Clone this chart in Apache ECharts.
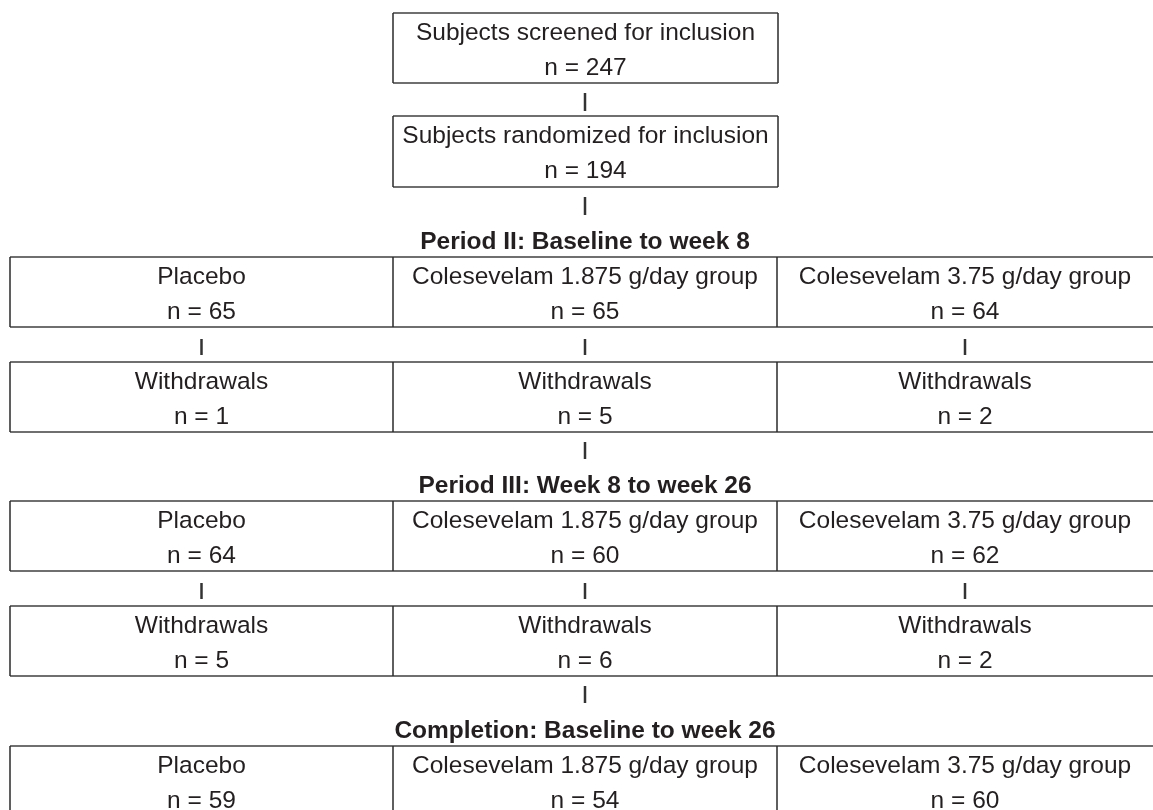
<!DOCTYPE html>
<html>
<head>
<meta charset="utf-8">
<script src="https://cdn.jsdelivr.net/npm/echarts@6/dist/echarts.min.js"></script>
<style>
    html, body { margin: 0; padding: 0; background: #fff; }
    #main { width: 1153px; height: 810px; }
</style>
</head>
<body>
<div id="main"></div>
<script>
var screeningLabels = ['Subjects screened for inclusion', 'Subjects randomized for inclusion'];
var screeningCounts = [247, 194];
var periodTitles = ['Period II: Baseline to week 8', 'Period III: Week 8 to week 26', 'Completion: Baseline to week 26'];
var groups = ['Placebo', 'Colesevelam 1.875 g/day group', 'Colesevelam 3.75 g/day group'];
var periodIICounts = [65, 65, 64];
var periodIIWithdrawals = [1, 5, 2];
var periodIIICounts = [64, 60, 62];
var periodIIIWithdrawals = [5, 6, 2];
var completionCounts = [59, 54, 60];

// layout, in page pixels (the hidden axes run 0..W and 0..H)
var W = 1153, H = 810;
var colEdges = [10, 393, 777, 1153];
var boxH = 70;
var topBoxTops = [13, 116];
var periodTops = [257, 501, 746];
var withdrawalGap = 105;
var FONT = '"Liberation Sans", Arial, Helvetica, sans-serif';
var TEXT = '#231f20';

function colCenter(c) {
    return (colEdges[c] + colEdges[c + 1]) / 2;
}

var boxes = [];
var links = [];
var heads = [];

screeningLabels.forEach(function (label, i) {
    var y0 = topBoxTops[i];
    boxes.push({x0: colEdges[1], x1: colEdges[2] + 1, y0: y0, y1: y0 + boxH + i,
        lines: [label, 'n = ' + screeningCounts[i]], right: true});
    links.push([colCenter(1), y0 + boxH + i + 10, y0 + boxH + i + 28]);
});

var sections = [
    {counts: periodIICounts, withdrawals: periodIIWithdrawals},
    {counts: periodIIICounts, withdrawals: periodIIIWithdrawals},
    {counts: completionCounts, withdrawals: null}
];

sections.forEach(function (s, k) {
    var top = periodTops[k];
    heads.push([colCenter(1), top - 15, k]);
    groups.forEach(function (g, c) {
        boxes.push({x0: colEdges[c], x1: colEdges[c + 1], y0: top, y1: top + boxH,
            lines: [g, 'n = ' + s.counts[c]], right: false});
        if (s.withdrawals) {
            links.push([colCenter(c), top + boxH + 12, top + boxH + 28]);
            boxes.push({x0: colEdges[c], x1: colEdges[c + 1], y0: top + withdrawalGap, y1: top + withdrawalGap + boxH,
                lines: ['Withdrawals', 'n = ' + s.withdrawals[c]], right: false});
        }
    });
    if (s.withdrawals) {
        var b = top + withdrawalGap + boxH;
        links.push([colCenter(1), b + 10, b + 27]);
    }
});

function txt(text, p, bold) {
    return {
        type: 'text',
        style: {
            text: text, x: p[0], y: p[1], align: 'center', verticalAlign: 'middle',
            fontFamily: FONT, fontSize: 24.5, fontWeight: bold ? 'bold' : 'normal', fill: TEXT
        }
    };
}

var myChart = echarts.init(document.getElementById('main'));
var option = {
    animation: false,
    backgroundColor: '#fff',
    grid: {left: 0, right: 0, top: 0, bottom: 0},
    xAxis: {type: 'value', min: 0, max: W, show: false},
    yAxis: {type: 'value', min: 0, max: H, inverse: true, show: false},
    series: [
        {
            type: 'custom',
            clip: false,
            data: boxes.map(function (b) { return [b.x0, b.y0, b.x1, b.y1]; }),
            renderItem: function (params, api) {
                var b = boxes[params.dataIndex];
                var p0 = api.coord([api.value(0), api.value(1)]);
                var p1 = api.coord([api.value(2), api.value(3)]);
                var hStyle = {stroke: '#6f6f6f', lineWidth: 2};
                var vStyle = {stroke: '#2a2a2a', lineWidth: 1.5};
                var children = [
                    {type: 'line', shape: {x1: p0[0], y1: p0[1], x2: p1[0], y2: p0[1]}, style: hStyle},
                    {type: 'line', shape: {x1: p0[0], y1: p1[1], x2: p1[0], y2: p1[1]}, style: hStyle},
                    {type: 'line', shape: {x1: p0[0], y1: p0[1], x2: p0[0], y2: p1[1]}, style: vStyle}
                ];
                if (b.right) {
                    children.push({type: 'line', shape: {x1: p1[0], y1: p0[1], x2: p1[0], y2: p1[1]}, style: vStyle});
                }
                var cx = (b.x0 + b.x1) / 2;
                children.push(txt(b.lines[0], api.coord([cx, b.y0 + 20])));
                children.push(txt(b.lines[1], api.coord([cx, b.y0 + 55])));
                return {type: 'group', children: children};
            }
        },
        {
            type: 'custom',
            clip: false,
            data: links,
            renderItem: function (params, api) {
                var a = api.coord([api.value(0), api.value(1)]);
                var b = api.coord([api.value(0), api.value(2)]);
                return {
                    type: 'line',
                    shape: {x1: a[0], y1: a[1], x2: b[0], y2: b[1]},
                    style: {stroke: '#333', lineWidth: 2.5}
                };
            }
        },
        {
            type: 'custom',
            clip: false,
            data: heads,
            renderItem: function (params, api) {
                var p = api.coord([api.value(0), api.value(1)]);
                return txt(periodTitles[api.value(2)], p, true);
            }
        }
    ]
};
myChart.setOption(option);
</script>
</body>
</html>
